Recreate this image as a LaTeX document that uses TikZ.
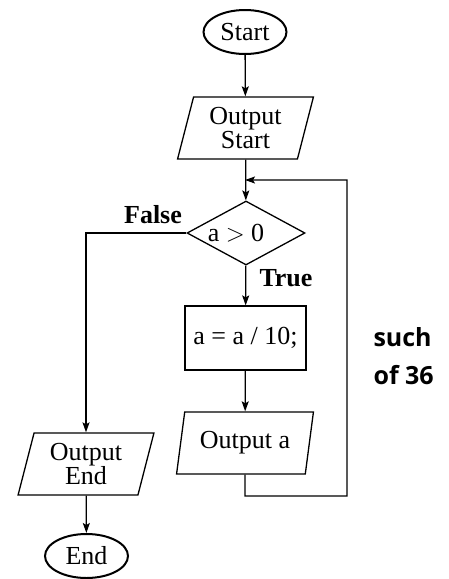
\documentclass[tikz,border=0pt]{standalone}
\usepackage{fontspec}
\setmainfont{Liberation Serif}
\newfontfamily\notefont{Open Sans}
\usetikzlibrary{shapes.geometric,arrows.meta}
\begin{document}
\begin{tikzpicture}[x=1pt,y=-1pt,
  every node/.style={font=\fontsize{26}{24}\selectfont},
  line/.style={line width=1.3pt},
  arr/.style={line, -{Stealth[length=10pt,width=7pt,inset=2pt]}},
  terminal/.style={ellipse, draw, line width=2pt, minimum width=83pt, minimum height=44pt, inner sep=0pt},
  io/.style={trapezium, draw, line width=1.3pt, trapezium left angle=75, trapezium right angle=105,
    trapezium stretches=true, minimum width=137pt, minimum height=62pt, inner sep=0pt, align=center},
  proc/.style={rectangle, draw, line width=1.2pt, minimum width=121pt, minimum height=64pt, inner sep=0pt},
  decision/.style={diamond, draw, line width=1.3pt, aspect=1.8, minimum width=118pt, minimum height=64pt, inner sep=0pt},
  branch/.style={font=\fontsize{26}{26}\selectfont\bfseries},
  note/.style={font=\fontsize{25}{25}\selectfont\notefont\bfseries, anchor=west}]
\useasboundingbox (0,0) rectangle (448,579);

% flowchart blocks
\node[terminal] (start) at (245,32) {Start};
\node[io] (out1) at (245.5,128) {Output\\Start};
\node[decision] (dec) at (246,233) {a $>$ 0\hspace*{20pt}};
\node[proc] (assign) at (245.5,338) {a = a / 10;};
\node[io] (outa) at (245,443) {Output a};
\node[io] (outend) at (86,464) {Output\\End};
\node[terminal] (end) at (86.5,556) {End};

% corners of the loop back to the test
\coordinate (loopa) at (245,496);
\coordinate (loopb) at (347,496);
\coordinate (loopc) at (347,180);
\coordinate (join) at (245,180);

\draw[arr] (start) -- (out1);
\draw[arr] (out1) -- (dec);
\draw[arr] (dec) -- (assign);
\draw[arr] (assign) -- (outa);
\draw[arr] (outa.south) -- (loopa) -- (loopb) -- (loopc) -- (join);
\draw[arr] (dec.west) -| (outend.north);
\draw[arr] (outend) -- (end);

\node[branch] (lfalse) at (153,215) {False};
\node[branch] (ltrue) at (286,278) {True};

\node[note] (n1) at (370,337) {such};
\node[note] (n2) at (370,375) {of 36};
\end{tikzpicture}
\end{document}
